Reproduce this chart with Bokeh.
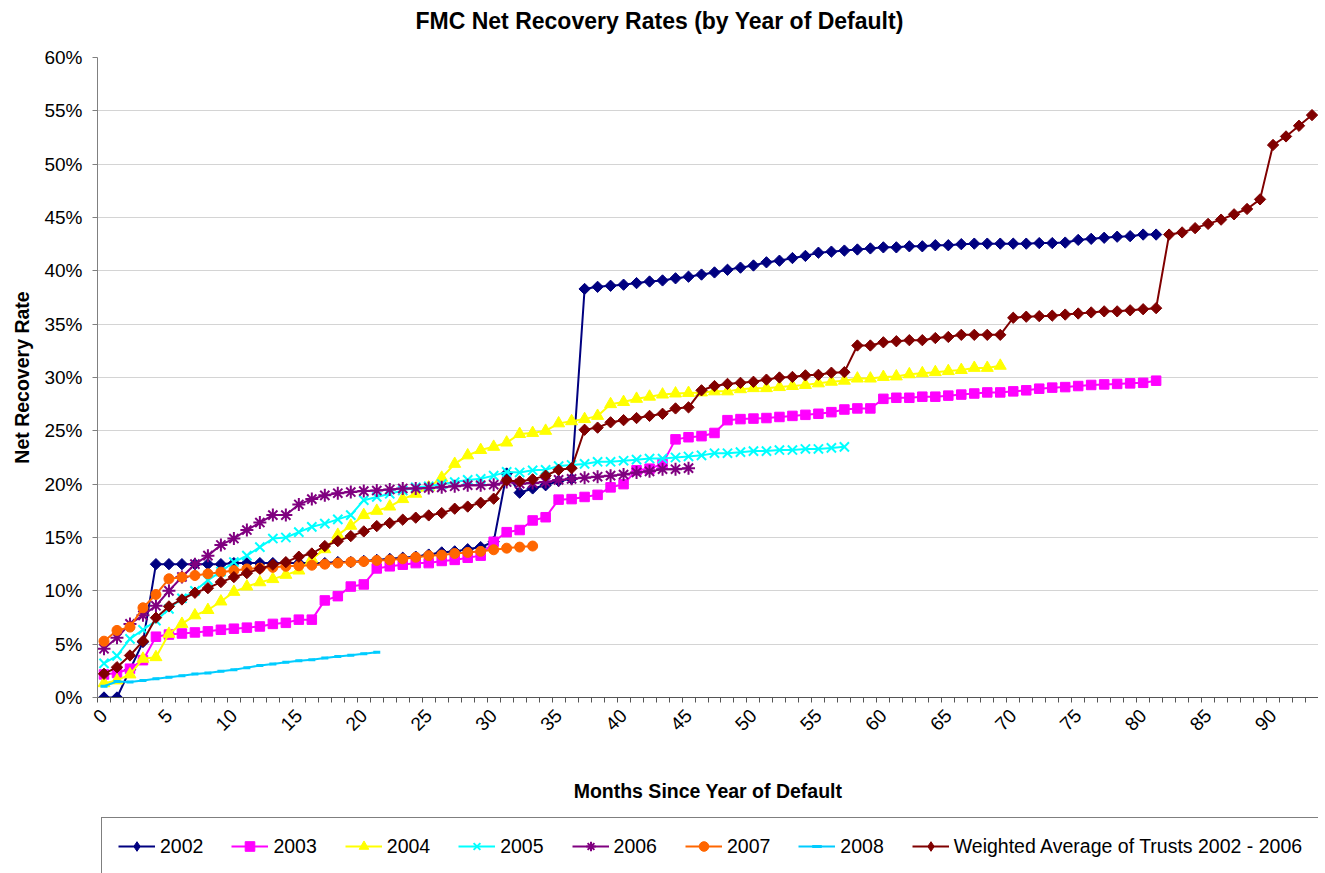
import numpy as np
from bokeh.plotting import figure
from bokeh.layouts import column
from bokeh.models import (FixedTicker, PrintfTickFormatter, Legend, LegendItem,
                          ColumnDataSource, Range1d, Title)
from bokeh.embed import file_html
from bokeh.resources import INLINE

# ---------------- data (net recovery rate in %, index = months since year of default)
tick_values = list(range(0, 91, 5))
tick_labels = [str(v) for v in tick_values]
y_ticks = list(range(0, 61, 5))

s2002 = [0.0, 0.0, 2.6, 5.2, 12.5, 12.5, 12.5, 12.5, 12.5, 12.5, 12.6, 12.6, 12.6, 12.6,
         12.6, 12.6, 12.6, 12.6, 12.7, 12.7, 12.8, 12.9, 13.0, 13.1, 13.2, 13.4, 13.6, 13.7,
         13.9, 14.1, 14.6, 21.0, 19.2, 19.6, 19.9, 20.3, 20.5, 38.3, 38.5, 38.6, 38.7, 38.85,
         39.0, 39.1, 39.3, 39.45, 39.65, 39.85, 40.1, 40.3, 40.5, 40.8, 40.95, 41.2, 41.4,
         41.7, 41.8, 41.9, 42.0, 42.1, 42.2, 42.2, 42.3, 42.3, 42.4, 42.4, 42.5, 42.55, 42.55,
         42.55, 42.55, 42.55, 42.6, 42.6, 42.65, 42.9, 43.0, 43.1, 43.2, 43.25, 43.4, 43.4]
s2003 = [2.16, 2.3, 2.7, 3.5, 5.7, 5.9, 6.0, 6.1, 6.2, 6.35, 6.45, 6.55, 6.66, 6.9, 7.0, 7.3,
         7.3, 9.1, 9.5, 10.4, 10.6, 12.1, 12.3, 12.45, 12.6, 12.6, 12.8, 12.9, 13.1, 13.3, 14.6,
         15.5, 15.7, 16.6, 16.9, 18.55, 18.6, 18.8, 19.0, 19.7, 20.0, 21.3, 21.45, 21.9, 24.2,
         24.4, 24.5, 24.8, 26.0, 26.1, 26.15, 26.2, 26.3, 26.4, 26.5, 26.6, 26.75, 27.0, 27.1,
         27.1, 28.0, 28.1, 28.1, 28.2, 28.2, 28.3, 28.4, 28.5, 28.6, 28.6, 28.7, 28.8, 28.95,
         29.05, 29.1, 29.2, 29.3, 29.35, 29.4, 29.45, 29.5, 29.7]
s2004 = [1.34, 1.6, 2.16, 3.63, 3.78, 5.97, 6.9, 7.7, 8.2, 9.0, 9.9, 10.4, 10.8, 11.1, 11.5,
         11.9, 13.0, 13.9, 15.25, 16.1, 17.1, 17.5, 17.9, 18.6, 19.1, 19.7, 20.6, 21.9, 22.7,
         23.2, 23.5, 23.9, 24.7, 24.8, 25.0, 25.7, 25.9, 26.1, 26.4, 27.5, 27.7, 28.0, 28.2,
         28.4, 28.5, 28.55, 28.6, 28.7, 28.7, 28.9, 29.0, 29.0, 29.1, 29.2, 29.3, 29.45, 29.6,
         29.7, 29.9, 29.9, 30.05, 30.1, 30.3, 30.4, 30.5, 30.6, 30.7, 30.9, 30.9, 31.1]
s2005 = [3.2, 3.9, 5.5, 6.35, 7.2, 8.3, 9.3, 10.0, 11.0, 11.8, 12.7, 13.3, 14.1, 14.9, 15.0,
         15.5, 16.0, 16.3, 16.7, 17.1, 18.5, 18.8, 19.1, 19.4, 19.7, 19.8, 20.0, 20.2, 20.4,
         20.5, 20.8, 21.15, 21.1, 21.3, 21.35, 21.7, 21.8, 21.9, 22.1, 22.1, 22.2, 22.3, 22.4,
         22.4, 22.5, 22.6, 22.7, 22.9, 22.9, 23.0, 23.1, 23.1, 23.2, 23.2, 23.3, 23.3, 23.4, 23.5]
s2006 = [4.57, 5.6, 6.9, 7.7, 8.6, 10.0, 11.3, 12.5, 13.3, 14.3, 14.9, 15.7, 16.4, 17.1, 17.1,
         18.1, 18.6, 18.95, 19.15, 19.26, 19.35, 19.4, 19.5, 19.6, 19.6, 19.65, 19.7, 19.8,
         19.9, 19.9, 19.95, 20.2, 20.05, 20.1, 20.2, 20.4, 20.5, 20.6, 20.7, 20.8, 20.9, 21.1,
         21.2, 21.4, 21.4, 21.5]
s2007 = [5.28, 6.29, 6.6, 8.41, 9.66, 11.13, 11.28, 11.44, 11.6, 11.75, 11.9, 12.05, 12.13,
         12.2, 12.3, 12.35, 12.4, 12.5, 12.6, 12.7, 12.75, 12.85, 12.9, 13.0, 13.15, 13.3,
         13.35, 13.5, 13.6, 13.7, 13.85, 14.0, 14.1, 14.2]
s2008 = [1.06, 1.5, 1.45, 1.6, 1.75, 1.9, 2.05, 2.2, 2.3, 2.45, 2.6, 2.8, 3.0, 3.15, 3.3, 3.45,
         3.55, 3.7, 3.85, 3.95, 4.1, 4.25]
weighted = [2.22, 2.84, 3.94, 5.28, 7.48, 8.54, 9.19, 9.82, 10.25, 10.82, 11.29, 11.66, 12.07,
            12.45, 12.69, 13.2, 13.5, 14.2, 14.66, 15.13, 15.57, 16.07, 16.35, 16.67, 16.86,
            17.07, 17.29, 17.7, 17.9, 18.26, 18.64, 20.36, 20.26, 20.45, 20.8, 21.35, 21.5,
            25.1, 25.3, 25.8, 26.0, 26.2, 26.4, 26.6, 27.1, 27.2, 28.8, 29.2, 29.4, 29.5, 29.6,
            29.8, 30.0, 30.05, 30.2, 30.25, 30.45, 30.5, 33.0, 33.0, 33.3, 33.4, 33.5, 33.5,
            33.7, 33.8, 34.0, 34.0, 34.0, 34.0, 35.6, 35.7, 35.75, 35.8, 35.9, 36.0, 36.1, 36.2,
            36.2, 36.3, 36.4, 36.5, 43.4, 43.6, 44.0, 44.4, 44.8, 45.3, 45.8, 46.7, 51.8, 52.6,
            53.6, 54.6]
n_months = len(weighted)

# name, values, colour, plot marker, size, angle, legend-key marker
series = [
    ("2002", s2002, "#000080", "square", 8, np.pi / 4, "diamond"),
    ("2003", s2003, "#FF00FF", "square", 9.5, 0, "square"),
    ("2004", s2004, "#FFFF00", "triangle", 12, 0, "triangle"),
    ("2005", s2005, "#00FFFF", "x", 13, 0, "x"),
    ("2006", s2006, "#800080", "asterisk", 13, 0, "asterisk"),
    ("2007", s2007, "#FF6600", "circle", 10, 0, "circle"),
    ("2008", s2008, "#00CCFF", "dash", 7, 0, "dash"),
    ("Weighted Average of Trusts 2002 - 2006", weighted, "#800000", "square", 8, np.pi / 4,
     "diamond"),
]

FONT = "Liberation Sans"
W = 1318

p = figure(width=W, height=816, output_backend="svg", toolbar_location=None, title=None,
           x_range=Range1d(-0.5, n_months - 0.5), y_range=Range1d(0, 60),
           min_border_left=97, min_border_right=0, min_border_top=57, min_border_bottom=119)
p.outline_line_color = None
p.background_fill_color = "white"
p.border_fill_color = "white"

# spacer between frame and title, then the title itself
p.add_layout(Title(text=" ", text_font=FONT, text_font_size="20px", standoff=0), "above")
p.add_layout(Title(text="FMC Net Recovery Rates (by Year of Default)", text_font=FONT,
                   text_font_size="23px", text_font_style="bold", text_color="black",
                   align="left", offset=318, standoff=0), "above")

# axes
xa = p.xaxis[0]
xa.ticker = FixedTicker(ticks=tick_values,
                        minor_ticks=[k - 0.5 for k in range(n_months + 1)])
xa.major_label_overrides = {v: t for v, t in zip(tick_values, tick_labels)}
xa.major_label_orientation = np.pi / 4
xa.major_label_text_font = FONT
xa.major_label_text_font_size = "19px"
xa.major_label_text_color = "black"
xa.major_label_standoff = 10
xa.major_tick_in = 0
xa.major_tick_out = 0
xa.minor_tick_in = 0
xa.minor_tick_out = 5
xa.axis_line_color = "#555555"
xa.minor_tick_line_color = "#555555"
xa.axis_label = "Months Since Year of Default"
xa.axis_label_text_font = FONT
xa.axis_label_text_font_size = "19.5px"
xa.axis_label_text_font_style = "bold"
xa.axis_label_text_color = "black"
xa.axis_label_standoff = 40

ya = p.yaxis[0]
ya.ticker = FixedTicker(ticks=y_ticks, minor_ticks=[])
ya.formatter = PrintfTickFormatter(format="%d%%")
ya.major_label_text_font = FONT
ya.major_label_text_font_size = "19px"
ya.major_label_text_color = "black"
ya.major_tick_in = 0
ya.major_tick_out = 5
ya.major_label_standoff = 10
ya.axis_line_color = "#808080"
ya.major_tick_line_color = "#808080"
ya.axis_label = "Net Recovery Rate"
ya.axis_label_text_font = FONT
ya.axis_label_text_font_size = "19.5px"
ya.axis_label_text_font_style = "bold"
ya.axis_label_text_color = "black"
ya.axis_label_standoff = 8

p.xgrid.grid_line_color = None
p.ygrid.grid_line_color = "#d4d4d4"
p.ygrid.ticker = FixedTicker(ticks=y_ticks)

# legend strip below the chart (its ranges show no data; it only hosts the legend keys)
lg = figure(width=W, height=57, output_backend="svg", toolbar_location=None,
            x_axis_type=None, y_axis_type=None,
            x_range=Range1d(-1000, -999), y_range=Range1d(-1000, -999),
            min_border=0)
lg.outline_line_color = None
lg.grid.visible = False

items = []
for name, vals, color, marker, size, angle, key_marker in series:
    src = ColumnDataSource(dict(x=list(range(len(vals))), y=vals))
    if marker in ("x", "asterisk", "dash"):
        kw = dict(line_color=color, line_width=2 if marker != "dash" else 3)
    else:
        kw = dict(fill_color=color, line_color=color, line_width=1)
    p.line("x", "y", source=src, line_color=color, line_width=2)
    p.scatter("x", "y", source=src, marker=marker, size=size, angle=angle, **kw)
    lr = lg.line("x", "y", source=src, line_color=color, line_width=2)
    sr = lg.scatter("x", "y", source=src, marker=key_marker, size=size, **kw)
    items.append(LegendItem(label=name, renderers=[lr, sr]))

pad = 16
legend = Legend(items=items, orientation="horizontal",
                location=(4, -2),
                glyph_width=37, glyph_height=24, label_standoff=5, spacing=28,
                padding=pad, margin=0, label_height=24,
                label_text_font=FONT, label_text_font_size="19.5px",
                label_text_color="black",
                border_line_color="black", border_line_width=1,
                background_fill_alpha=1.0)
lg.add_layout(legend, "center")

layout = column(p, lg, spacing=0)
open("out.html", "w").write(file_html(layout, INLINE))
